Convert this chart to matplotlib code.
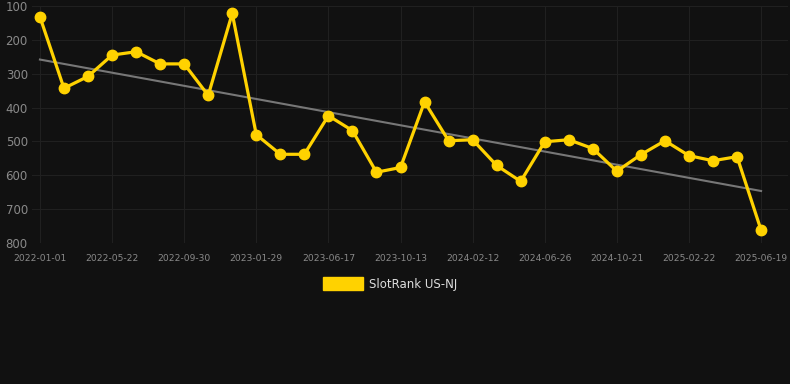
import numpy as np
import matplotlib
matplotlib.use('Agg')
import matplotlib.pyplot as plt
import matplotlib.patches

# x axis is categorical: one point per observation, a label every third one
TICK_LABELS = ['2022-01-01', '2022-05-22', '2022-09-30', '2023-01-29', '2023-06-17',
               '2023-10-13', '2024-02-12', '2024-06-26', '2024-10-21', '2025-02-22',
               '2025-06-19']
RANKS = [132, 343, 308, 245, 235, 271, 271, 364, 122, 480,
         538, 538, 424, 468, 591, 577, 383, 498, 495, 571,
         618, 501, 495, 521, 588, 539, 498, 542, 557, 545,
         762]
SERIES_NAME = 'SlotRank US-NJ'

BG = '#111111'
GOLD = '#FFD200'

fig = plt.figure(figsize=(7.9, 3.84), dpi=100, facecolor=BG)
ax = fig.add_axes([32/790, 1 - 243/384, 756/790, 237/384], facecolor=BG)

x = np.arange(len(RANKS))
y = np.array(RANKS, dtype=float)

# linear trend over the whole series
k, b = np.polyfit(x, y, 1)
ax.plot(x, k*x + b, color='#777777', lw=1.5, zorder=2)

ax.plot(x, y, color=GOLD, lw=2.3, marker='o', markersize=7.5, zorder=3)

ax.set_ylim(800, 100)
ax.set_yticks(np.arange(100, 801, 100))
ax.set_xlim(-0.33, len(RANKS) - 1 + 1.12)
ax.set_xticks(x[::3])
ax.set_xticklabels(TICK_LABELS)

ax.grid(True, color='#202020', lw=0.8)
for s in ax.spines.values():
    s.set_visible(False)
ax.tick_params(axis='y', colors='#8a8a8a', labelsize=8.5, length=0, pad=3)
ax.tick_params(axis='x', colors='#8a8a8a', labelsize=6.6, length=0, pad=8)

handle = matplotlib.patches.Patch(facecolor=GOLD, edgecolor=GOLD)
leg = fig.legend([handle], [SERIES_NAME], loc='center', bbox_to_anchor=(390/790, 1 - 284/384),
                 frameon=False, handlelength=3.4, handleheight=1.2, handletextpad=0.5,
                 fontsize=8.5, labelcolor='#dddddd')

fig.savefig('out.png', facecolor=BG)
